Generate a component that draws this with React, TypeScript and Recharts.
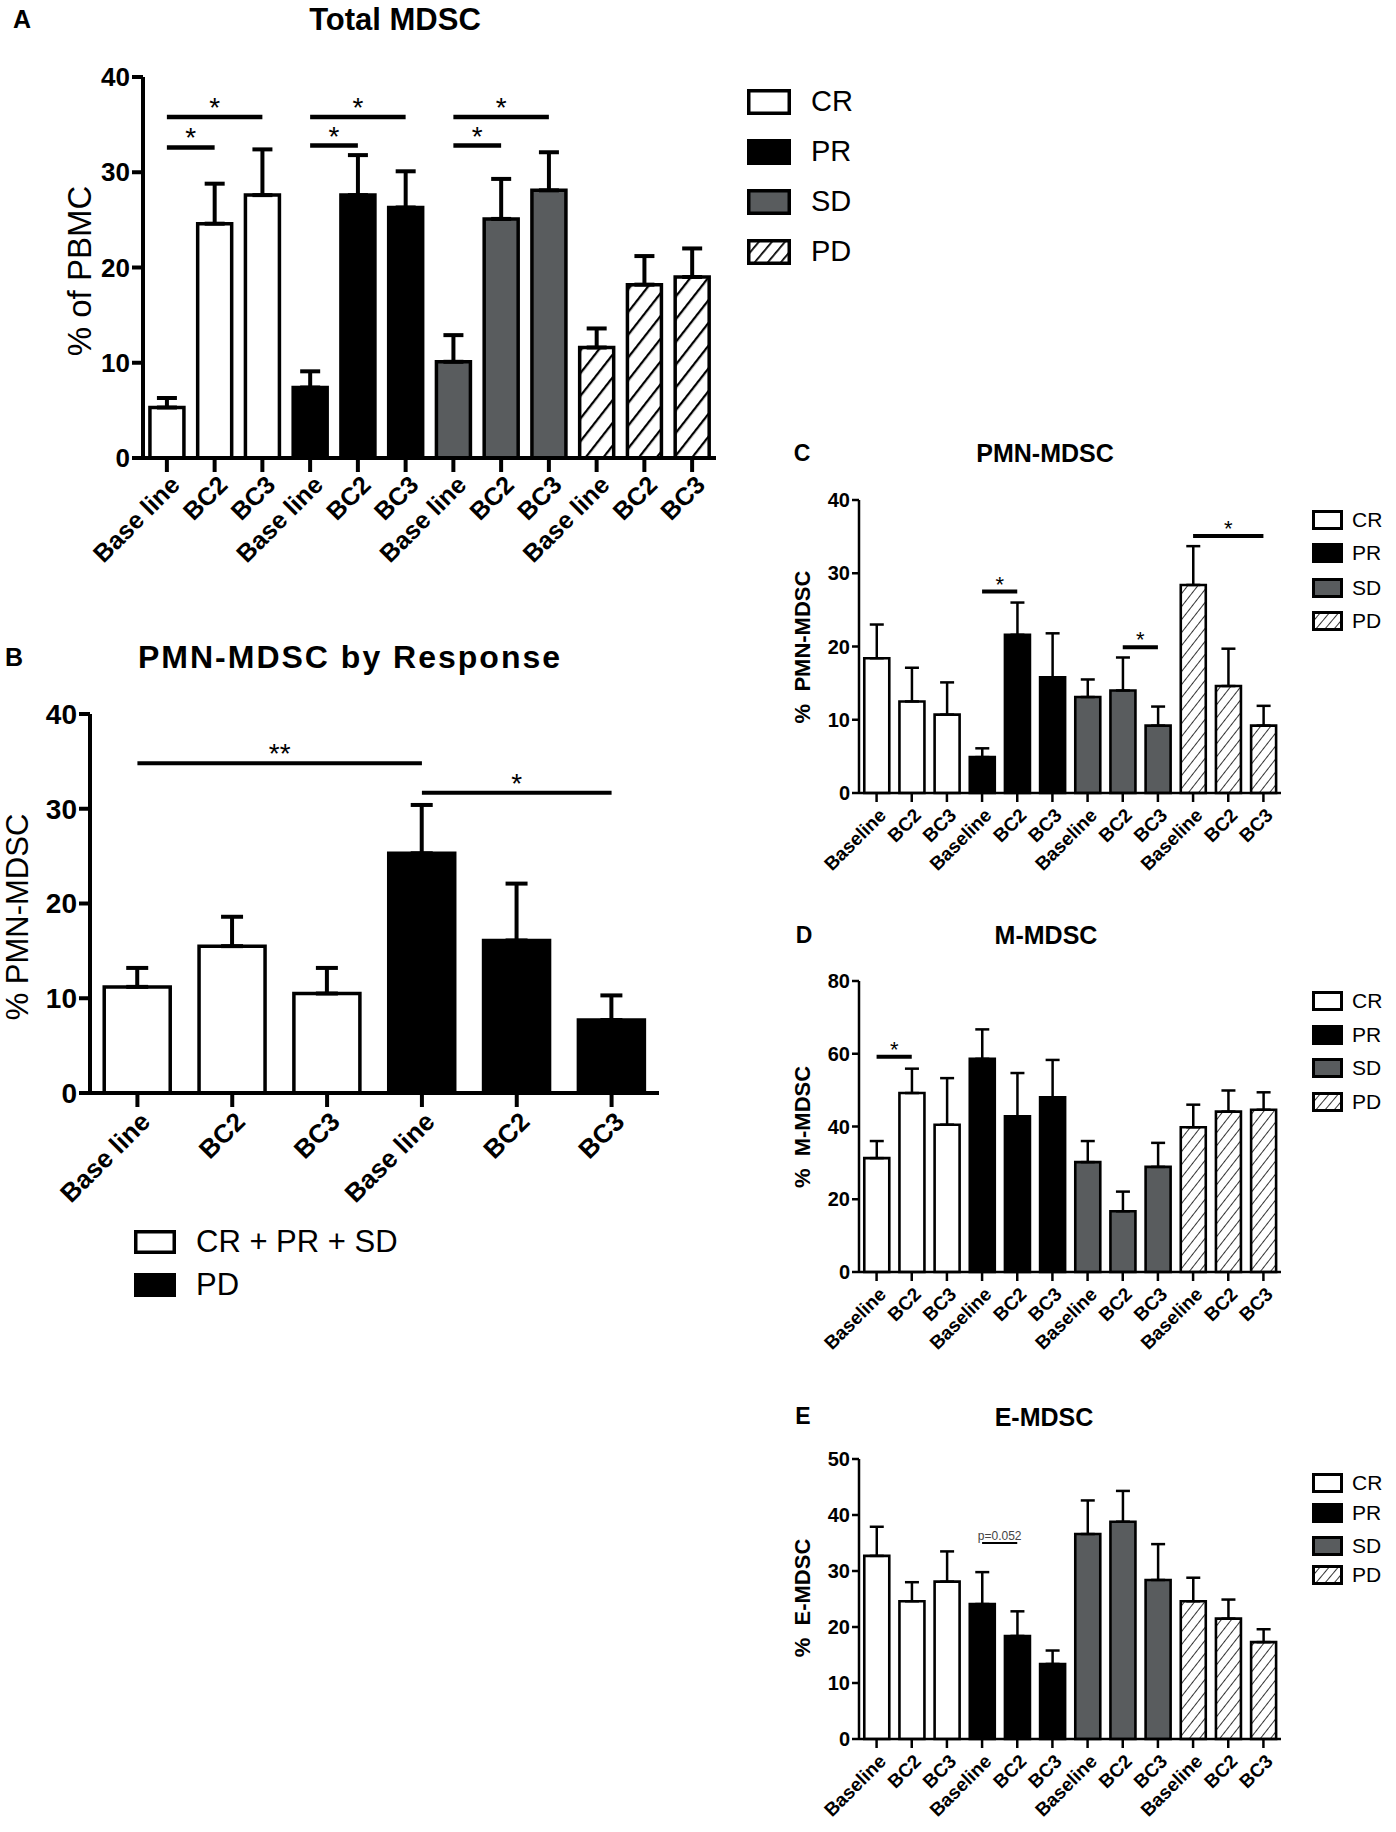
import React from 'react';
import { BarChart, Bar, Cell, XAxis, YAxis, ErrorBar, ReferenceLine } from 'recharts';

// groups and time points
const responseGroups = ['CR', 'PR', 'SD', 'PD'];
const pooledGroups = ['CR + PR + SD', 'PD'];
const timepointsAB = ['Base line', 'BC2', 'BC3'];
const timepointsCDE = ['Baseline', 'BC2', 'BC3'];

// A: Total MDSC (% of PBMC), mean and SEM per group x time point
const totalMean = [5.3, 24.6, 27.6, 7.4, 27.6, 26.3, 10.1, 25.1, 28.1, 11.6, 18.2, 19.0];
const totalSem = [1.0, 4.2, 4.8, 1.7, 4.2, 3.8, 2.8, 4.2, 4.0, 2.0, 3.0, 3.0];
const totalSig = [
    { from: 0, to: 1, y: 32.6, label: '*' },
    { from: 0, to: 2, y: 35.8, label: '*' },
    { from: 3, to: 4, y: 32.8, label: '*' },
    { from: 3, to: 5, y: 35.8, label: '*' },
    { from: 6, to: 7, y: 32.8, label: '*' },
    { from: 6, to: 8, y: 35.8, label: '*' },
];

// B: PMN-MDSC by response
const pooledMean = [11.2, 15.5, 10.5, 25.3, 16.1, 7.7];
const pooledSem = [2.0, 3.1, 2.7, 5.1, 6.0, 2.6];
const pooledSig = [
    { from: 0, to: 3, y: 34.8, label: '**' },
    { from: 3, to: 5, y: 31.7, label: '*' },
];

// C: PMN-MDSC
const pmnMean = [18.4, 12.5, 10.7, 4.9, 21.6, 15.8, 13.1, 14.0, 9.2, 28.4, 14.6, 9.2];
const pmnSem = [4.6, 4.6, 4.4, 1.2, 4.4, 6.0, 2.4, 4.5, 2.6, 5.3, 5.1, 2.7];
const pmnSig = [
    { from: 3, to: 4, y: 27.5, label: '*' },
    { from: 7, to: 8, y: 19.9, label: '*' },
    { from: 9, to: 11, y: 35.1, label: '*' },
];

// D: M-MDSC
const mMean = [31.3, 49.2, 40.5, 58.6, 42.8, 48.0, 30.2, 16.7, 28.9, 39.8, 44.1, 44.6];
const mSem = [4.7, 6.7, 12.8, 8.1, 11.9, 10.3, 5.8, 5.4, 6.6, 6.2, 5.8, 4.8];
const mSig = [{ from: 0, to: 1, y: 59.2, label: '*' }];

// E: E-MDSC
const eMean = [32.7, 24.6, 28.1, 24.1, 18.4, 13.4, 36.6, 38.8, 28.4, 24.6, 21.5, 17.3];
const eSem = [5.2, 3.4, 5.4, 5.7, 4.4, 2.4, 6.0, 5.5, 6.4, 4.2, 3.4, 2.3];
const eSig = [{ from: 3, to: 4, y: 35.0, label: 'p=0.052' }];

const ticks40 = [0, 10, 20, 30, 40];
const ticks80 = [0, 20, 40, 60, 80];
const ticks50 = [0, 10, 20, 30, 40, 50];

const FONT = "'Liberation Sans', Arial, sans-serif";
const NARROW = "'Liberation Sans Narrow', 'Arial Narrow', 'Liberation Sans', Arial, sans-serif";
const GRAY = '#595c5e';

interface Row {
    key: string;
    label: string;
    group: number;
    value: number;
    err: [number, number];
}

function buildRows(groups: string[], tps: string[], mean: number[], sem: number[]): Row[] {
    const rows: Row[] = [];
    groups.forEach((g, gi) => {
        tps.forEach((t, ti) => {
            const i = gi * tps.length + ti;
            rows.push({ key: `${g}|${t}`, label: t, group: gi, value: mean[i], err: [0, sem[i]] });
        });
    });
    return rows;
}

const fourFills = (hatchId: string) => ['#ffffff', '#000000', GRAY, `url(#${hatchId})`];

interface Sig { from: number; to: number; y: number; label: string; }

interface PanelProps {
    hatchId: string;
    rows: Row[];
    fills: string[];
    left: number; top: number; width: number; height: number;
    x0: number; x1: number; y0: number; y1: number;
    domain: [number, number];
    ticks: number[];
    axisW: number; barW: number; capW: number;
    yTickLen: number; xTickLen: number;
    tickFont: number; xFont: number; xdx: number; xdy: number;
    sigs: Sig[]; sigW: number; starFont: number;
    hatchGap: number; hatchW: number;
    gap: string;
}

const Panel: React.FC<PanelProps> = (p) => {
    const renderTick = (props: any) => {
        const { x, y, payload } = props;
        const ax = x + p.xdx;
        const ay = y + p.xdy;
        const row = p.rows.find((r) => r.key === payload.value);
        return (
            <text
                x={ax}
                y={ay}
                transform={`rotate(-45 ${ax} ${ay})`}
                textAnchor="end"
                dominantBaseline="central"
                fontSize={p.xFont}
                fontWeight={700}
                fontFamily={FONT}
                fill="#000"
            >
                {row ? row.label : ''}
            </text>
        );
    };
    return (
        <div style={{ position: 'absolute', left: p.left, top: p.top }}>
            <BarChart
                width={p.width}
                height={p.height}
                data={p.rows}
                margin={{ top: p.y0 - p.top, right: p.left + p.width - p.x1, bottom: 0, left: 0 }}
                barCategoryGap={p.gap}
            >
                <defs>
                    <pattern
                        id={p.hatchId}
                        patternUnits="userSpaceOnUse"
                        width={p.hatchGap}
                        height={p.hatchGap}
                        patternTransform="rotate(38)"
                    >
                        <rect width={p.hatchGap} height={p.hatchGap} fill="#fff" />
                        <line x1={0} y1={0} x2={0} y2={p.hatchGap} stroke="#000" strokeWidth={p.hatchW} />
                    </pattern>
                </defs>
                <XAxis
                    dataKey="key"
                    height={p.top + p.height - p.y1}
                    interval={0}
                    tick={renderTick}
                    tickSize={p.xTickLen}
                    tickMargin={2}
                    axisLine={{ stroke: '#000', strokeWidth: p.axisW }}
                    tickLine={{ stroke: '#000', strokeWidth: p.axisW }}
                />
                <YAxis
                    width={p.x0 - p.left}
                    domain={p.domain}
                    ticks={p.ticks}
                    interval={0}
                    tickSize={p.yTickLen}
                    tickMargin={2}
                    axisLine={{ stroke: '#000', strokeWidth: p.axisW }}
                    tickLine={{ stroke: '#000', strokeWidth: p.axisW }}
                    tick={{ fontSize: p.tickFont, fontWeight: 700, fill: '#000', fontFamily: NARROW }}
                />
                <Bar dataKey="value" stroke="#000" strokeWidth={p.barW} isAnimationActive={false}>
                    {p.rows.map((r) => (
                        <Cell key={r.key} fill={p.fills[r.group]} />
                    ))}
                    <ErrorBar
                        dataKey="err"
                        width={p.capW}
                        strokeWidth={p.axisW}
                        stroke="#000"
                        direction="y"
                        isAnimationActive={false}
                    />
                </Bar>
                {p.sigs.map((s, i) => (
                    <ReferenceLine
                        key={`sig-${i}`}
                        segment={[
                            { x: p.rows[s.from].key, y: s.y },
                            { x: p.rows[s.to].key, y: s.y },
                        ]}
                        stroke="#000"
                        strokeWidth={p.sigW}
                        label={{
                            value: s.label,
                            position: 'top',
                            fill: s.label.startsWith('p') ? '#444' : '#000',
                            fontSize: s.label.startsWith('p') ? 12 : p.starFont,
                            fontFamily: FONT,
                            offset: s.label.startsWith('p') ? 3 : 0,
                        }}
                    />
                ))}
            </BarChart>
        </div>
    );
};

const Txt: React.FC<{ x: number; y: number; size: number; bold?: boolean; rotate?: boolean; spacing?: number; children: React.ReactNode }> = ({ x, y, size, bold, rotate, spacing, children }) => (
    <div
        style={{
            position: 'absolute',
            left: x,
            top: y,
            transform: `translate(-50%, -50%)${rotate ? ' rotate(-90deg)' : ''}`,
            fontSize: size,
            fontWeight: bold ? 700 : 400,
            fontFamily: FONT,
            letterSpacing: spacing || 0,
            whiteSpace: 'pre',
            lineHeight: 1.15,
            color: '#000',
        }}
    >
        {children}
    </div>
);

interface LegendProps {
    id: string;
    labels: string[];
    fills: string[];
    x: number; ys: number[]; boxW: number; boxH: number; textX: number; font: number; stroke: number;
    hatchGap: number; hatchW: number;
}

const SideLegend: React.FC<LegendProps> = (l) => (
    <>
        {l.labels.map((lab, i) => (
            <React.Fragment key={lab}>
                <svg
                    style={{ position: 'absolute', left: l.x, top: l.ys[i] - l.boxH / 2 }}
                    width={l.boxW}
                    height={l.boxH}
                >
                    <defs>
                        <pattern
                            id={`${l.id}-${i}`}
                            patternUnits="userSpaceOnUse"
                            width={l.hatchGap}
                            height={l.hatchGap}
                            patternTransform="rotate(40)"
                        >
                            <rect width={l.hatchGap} height={l.hatchGap} fill="#fff" />
                            <line x1={0} y1={0} x2={0} y2={l.hatchGap} stroke="#000" strokeWidth={l.hatchW} />
                        </pattern>
                    </defs>
                    <rect
                        x={l.stroke / 2}
                        y={l.stroke / 2}
                        width={l.boxW - l.stroke}
                        height={l.boxH - l.stroke}
                        fill={l.fills[i] === 'hatch' ? `url(#${l.id}-${i})` : l.fills[i]}
                        stroke="#000"
                        strokeWidth={l.stroke}
                    />
                </svg>
                <div
                    style={{
                        position: 'absolute',
                        left: l.textX,
                        top: l.ys[i],
                        transform: 'translateY(-50%)',
                        fontSize: l.font,
                        fontFamily: FONT,
                        lineHeight: 1.15,
                        whiteSpace: 'nowrap',
                        color: '#000',
                    }}
                >
                    {lab}
                </div>
            </React.Fragment>
        ))}
    </>
);

const legendFills = ['#ffffff', '#000000', GRAY, 'hatch'];

const small = {
    axisW: 2.5, barW: 2.6, capW: 7, yTickLen: 7, xTickLen: 9, tickFont: 20, xFont: 19,
    xdx: 6, xdy: 8, sigW: 4, starFont: 22, hatchGap: 8, hatchW: 1.6, gap: '15%',
};

const App: React.FC = () => {
    const rowsA = buildRows(responseGroups, timepointsAB, totalMean, totalSem);
    const rowsB = buildRows(pooledGroups, timepointsAB, pooledMean, pooledSem);
    const rowsC = buildRows(responseGroups, timepointsCDE, pmnMean, pmnSem);
    const rowsD = buildRows(responseGroups, timepointsCDE, mMean, mSem);
    const rowsE = buildRows(responseGroups, timepointsCDE, eMean, eSem);

    return (
        <div style={{ position: 'absolute', left: 0, top: 0, width: 1396, height: 1832, background: '#fff', overflow: 'hidden', fontFamily: FONT }}>
            {/* A */}
            <Panel
                hatchId="hatchA" rows={rowsA} fills={fourFills('hatchA')}
                left={0} top={0} width={730} height={600}
                x0={143} x1={716} y0={77} y1={458}
                domain={[0, 40]} ticks={ticks40}
                axisW={4} barW={3.5} capW={10} yTickLen={11} xTickLen={14}
                tickFont={26} xFont={25} xdx={8} xdy={6}
                sigs={totalSig} sigW={4.5} starFont={28}
                hatchGap={14} hatchW={4.5} gap="14.5%"
            />
            <Txt x={22} y={19} size={25} bold>A</Txt>
            <Txt x={395} y={20} size={31} bold>Total MDSC</Txt>
            <Txt x={80} y={271} size={33} rotate>% of PBMC</Txt>
            <SideLegend
                id="legA" labels={responseGroups} fills={legendFills}
                x={747} ys={[102, 152, 202, 252]} boxW={44} boxH={26} textX={811} font={29} stroke={3.5}
                hatchGap={10} hatchW={3.5}
            />

            {/* B */}
            <Panel
                hatchId="hatchB" rows={rowsB} fills={['#ffffff', '#000000']}
                left={0} top={640} width={680} height={580}
                x0={90} x1={659} y0={714} y1={1093}
                domain={[0, 40]} ticks={ticks40}
                axisW={4} barW={3.5} capW={11} yTickLen={11} xTickLen={14}
                tickFont={28} xFont={26} xdx={8} xdy={8}
                sigs={pooledSig} sigW={4} starFont={28}
                hatchGap={13} hatchW={3.5} gap="15%"
            />
            <Txt x={14} y={657} size={25} bold>B</Txt>
            <Txt x={350} y={657} size={32} bold spacing={2}>PMN-MDSC by Response</Txt>
            <Txt x={18} y={917} size={31} rotate>% PMN-MDSC</Txt>
            <SideLegend
                id="legB" labels={pooledGroups} fills={['#ffffff', '#000000']}
                x={134} ys={[1242, 1285]} boxW={42} boxH={24} textX={196} font={31} stroke={3.5}
                hatchGap={10} hatchW={3}
            />

            {/* C */}
            <Panel
                hatchId="hatchC" rows={rowsC} fills={fourFills('hatchC')}
                left={780} top={470} width={520} height={420}
                x0={859} x1={1281} y0={500} y1={793}
                domain={[0, 40]} ticks={ticks40}
                sigs={pmnSig} {...small}
            />
            <Txt x={802} y={453} size={23} bold>C</Txt>
            <Txt x={1045} y={453} size={25} bold>PMN-MDSC</Txt>
            <Txt x={803} y={647} size={22} bold rotate>{'%  PMN-MDSC'}</Txt>
            <SideLegend
                id="legC" labels={responseGroups} fills={legendFills}
                x={1312} ys={[520, 553, 588, 621]} boxW={31} boxH={20} textX={1352} font={21} stroke={3}
                hatchGap={7} hatchW={1.6}
            />

            {/* D */}
            <Panel
                hatchId="hatchD" rows={rowsD} fills={fourFills('hatchD')}
                left={780} top={950} width={520} height={420}
                x0={859} x1={1281} y0={981} y1={1272}
                domain={[0, 80]} ticks={ticks80}
                sigs={mSig} {...small}
            />
            <Txt x={804} y={935} size={23} bold>D</Txt>
            <Txt x={1046} y={935} size={25} bold>M-MDSC</Txt>
            <Txt x={803} y={1127} size={22} bold rotate>{'%  M-MDSC'}</Txt>
            <SideLegend
                id="legD" labels={responseGroups} fills={legendFills}
                x={1312} ys={[1001, 1035, 1068, 1102]} boxW={31} boxH={20} textX={1352} font={21} stroke={3}
                hatchGap={7} hatchW={1.6}
            />

            {/* E */}
            <Panel
                hatchId="hatchE" rows={rowsE} fills={fourFills('hatchE')}
                left={780} top={1430} width={520} height={402}
                x0={859} x1={1281} y0={1459} y1={1739}
                domain={[0, 50]} ticks={ticks50}
                sigs={eSig} {...small} sigW={2}
            />
            <Txt x={803} y={1416} size={23} bold>E</Txt>
            <Txt x={1044} y={1417} size={25} bold>E-MDSC</Txt>
            <Txt x={803} y={1598} size={22} bold rotate>{'%  E-MDSC'}</Txt>
            <SideLegend
                id="legE" labels={responseGroups} fills={legendFills}
                x={1312} ys={[1483, 1513, 1546, 1575]} boxW={31} boxH={20} textX={1352} font={21} stroke={3}
                hatchGap={7} hatchW={1.6}
            />
        </div>
    );
};

export default App;
